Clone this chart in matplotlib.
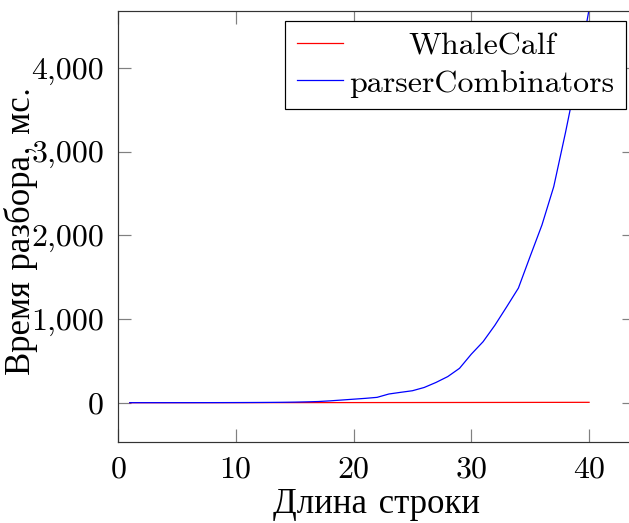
import matplotlib
matplotlib.use("Agg")
import matplotlib.pyplot as plt
from matplotlib.ticker import FuncFormatter, MultipleLocator

# ---------------------------------------------------------------------
# DATA (parse time, ms, vs. string length)
# ---------------------------------------------------------------------
lengths = [1, 2, 3, 4, 5, 6, 7, 8, 9, 10,
           11, 12, 13, 14, 15, 16, 17, 18, 19, 20,
           21, 22, 23, 24, 25, 26, 27, 28, 29, 30,
           31, 32, 33, 34, 35, 36, 37, 38, 39, 40]

whale_calf = [0.1, 0.1, 0.2, 0.2, 0.3, 0.3, 0.4, 0.4, 0.5, 0.6,
              0.6, 0.7, 0.8, 0.9, 1.0, 1.1, 1.2, 1.3, 1.4, 1.5,
              1.6, 1.7, 1.9, 2.0, 2.1, 2.3, 2.4, 2.5, 2.7, 2.8,
              3.0, 3.1, 3.3, 3.4, 3.6, 3.8, 3.9, 4.1, 4.3, 4.5]

parser_comb = [0.3, 0.3, 0.4, 0.4, 0.5, 0.6, 0.8, 1.0, 1.3, 1.7,
               2.2, 2.9, 3.8, 5, 7, 10, 14, 22, 32, 42,
               52, 64, 104, 124, 143, 182, 242, 312, 411, 580,
               729, 925, 1145, 1370, 1750, 2124, 2582, 3230, 3920, 4700]

series_names = ["WhaleCalf", "parserCombinators"]
x_label = "Длина строки"
y_label = "Время разбора, мс."

# ---------------------------------------------------------------------
# STYLE
# ---------------------------------------------------------------------
FS = 23
FS_LABEL = 25
plt.rcParams["font.family"] = ["cmr10", "Liberation Serif", "DejaVu Serif"]
plt.rcParams["axes.formatter.use_mathtext"] = True
plt.rcParams["font.size"] = FS

fig = plt.figure(figsize=(6.29, 5.23), dpi=100)
ax = fig.add_axes([118 / 629, 1 - 441.7 / 523, 517 / 629, 430.7 / 523])

ax.plot(lengths, whale_calf, color="red", lw=0.9, label=series_names[0])
ax.plot(lengths, parser_comb, color="blue", lw=0.9, label=series_names[1])

ax.set_xlim(0, 43.9)
ax.set_ylim(-466, 4681)
ax.xaxis.set_major_locator(MultipleLocator(10))
ax.yaxis.set_major_locator(MultipleLocator(1000))
ax.yaxis.set_major_formatter(FuncFormatter(lambda v, p: f"{v:,.0f}"))

ax.tick_params(direction="in", length=9.4, width=0.86, color="#808080",
               top=True, right=True, labelsize=FS, pad=10)
for s in ax.spines.values():
    s.set_linewidth(0.86)
    s.set_color("#333333")

ax.set_xlabel(x_label, fontsize=FS_LABEL, labelpad=4)
ax.set_ylabel(y_label, fontsize=FS_LABEL)
ax.yaxis.set_label_coords(-0.154, 0.49)

leg = ax.legend(loc="upper right", bbox_to_anchor=(0.982, 0.9775),
                borderaxespad=0, fancybox=False, framealpha=1,
                edgecolor="black", handlelength=1.45, handletextpad=0.2,
                borderpad=0.35, labelspacing=0.28, fontsize=FS)
leg.get_frame().set_linewidth(0.86)

# pgfplots centres legend entries -> shift shorter label
fig.canvas.draw()
r = fig.canvas.get_renderer()
texts = leg.get_texts()
widths = [t.get_window_extent(r).width for t in texts]
wmax = max(widths)
for t, w in zip(texts, widths):
    t.set_x((wmax - w) / 2)

fig.savefig("out.png", dpi=100)
